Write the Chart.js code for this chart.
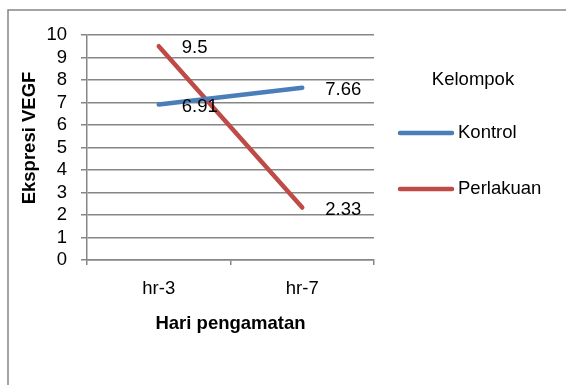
<!DOCTYPE html>
<html><head><meta charset="utf-8">
<script src="https://cdn.jsdelivr.net/npm/chart.js@4.4.1/dist/chart.umd.min.js"></script>
<style>html,body{margin:0;padding:0;background:#fff}#wrap{width:566px;height:385px}</style>
</head><body><div id="wrap"><canvas id="c" width="566" height="385"></canvas></div>
<script>
const categories = ["hr-3", "hr-7"];
const kontrol = [6.91, 7.66];
const perlakuan = [9.5, 2.33];
const seriesNames = ["Kontrol", "Perlakuan"];
const legendTitle = "Kelompok";
const yTitle = "Ekspresi VEGF";
const xTitle = "Hari pengamatan";
const yTicks = [0,1,2,3,4,5,6,7,8,9,10];

const FONT = "'Liberation Sans'";
const FS = 18.5;
const GRID = "#868686";

const borderPlugin = {
  id: 'outerBorder',
  afterDraw(chart) {
    const ctx = chart.ctx;
    ctx.save();
    ctx.strokeStyle = GRID; ctx.lineWidth = 1.5;
    ctx.beginPath();
    ctx.moveTo(8, 400); ctx.lineTo(8, 10); ctx.lineTo(600, 10);
    ctx.stroke();
    // y axis title
    ctx.fillStyle = "#000";
    ctx.font = "bold " + FS + "px " + FONT;
    ctx.textAlign = "center"; ctx.textBaseline = "middle";
    ctx.translate(30, 138);
    ctx.rotate(-Math.PI / 2);
    ctx.fillText(yTitle, 0, 0);
    ctx.restore();
  }
};

const labelPlugin = {
  id: 'dataLabels',
  afterDatasetsDraw(chart) {
    const ctx = chart.ctx;
    ctx.save();
    ctx.font = FS + "px " + FONT;
    ctx.fillStyle = "#000";
    ctx.textAlign = "left"; ctx.textBaseline = "middle";
    chart.data.datasets.forEach((ds, i) => {
      chart.getDatasetMeta(i).data.forEach((pt, j) => {
        ctx.fillText(String(ds.data[j]), pt.x + 23, pt.y + 2);
      });
    });
    ctx.restore();
  }
};

const legendPlugin = {
  id: 'customLegend',
  afterDraw(chart) {
    const ctx = chart.ctx;
    ctx.save();
    ctx.font = FS + "px " + FONT;
    ctx.fillStyle = "#000";
    ctx.textBaseline = "middle";
    ctx.textAlign = "center";
    ctx.fillText(legendTitle, 473, 80);
    ctx.textAlign = "left";
    const ys = [133, 189];
    chart.data.datasets.forEach((ds, i) => {
      ctx.strokeStyle = ds.borderColor; ctx.lineWidth = 4.5; ctx.lineCap = "round";
      ctx.beginPath(); ctx.moveTo(400, ys[i]); ctx.lineTo(452, ys[i]); ctx.stroke();
      ctx.fillText(ds.label, 458, ys[i]);
    });
    ctx.restore();
  }
};

new Chart(document.getElementById('c'), {
  type: 'line',
  data: {
    labels: categories,
    datasets: [
      { label: seriesNames[0], data: kontrol, borderColor: "#4A7EBB", backgroundColor: "#4A7EBB", borderWidth: 4.5, borderCapStyle: 'round', pointRadius: 0, tension: 0 },
      { label: seriesNames[1], data: perlakuan, borderColor: "#BE4B48", backgroundColor: "#BE4B48", borderWidth: 4.5, borderCapStyle: 'round', pointRadius: 0, tension: 0 }
    ]
  },
  options: {
    responsive: false, animation: false,
    layout: { padding: { top: 35, right: 192, left: 0, bottom: 0 } },
    plugins: { legend: { display: false }, tooltip: { enabled: false } },
    scales: {
      x: {
        offset: true,
        grid: { offset: true, drawOnChartArea: false, drawTicks: true, tickLength: 5, color: GRID, lineWidth: 1.5 },
        border: { display: true, color: GRID, width: 1.5 },
        ticks: { color: "#000", font: { family: FONT, size: FS }, padding: 13 },
        title: { display: true, text: xTitle, color: "#000", font: { family: FONT, size: FS, weight: 'bold' }, padding: { top: 0, bottom: 50 } },
        afterFit(s) { s.height = 125; }
      },
      y: {
        min: 0, max: 10,
        afterBuildTicks(s) { s.ticks = yTicks.map(v => ({ value: v })); },
        grid: { drawTicks: true, tickLength: 6, color: GRID, lineWidth: 1.5 },
        border: { display: true, color: GRID, width: 1.5 },
        ticks: { color: "#000", font: { family: FONT, size: FS }, padding: 14, autoSkip: false },
        afterFit(s) { s.width = 87; }
      }
    }
  },
  plugins: [borderPlugin, labelPlugin, legendPlugin]
});
</script></body></html>
